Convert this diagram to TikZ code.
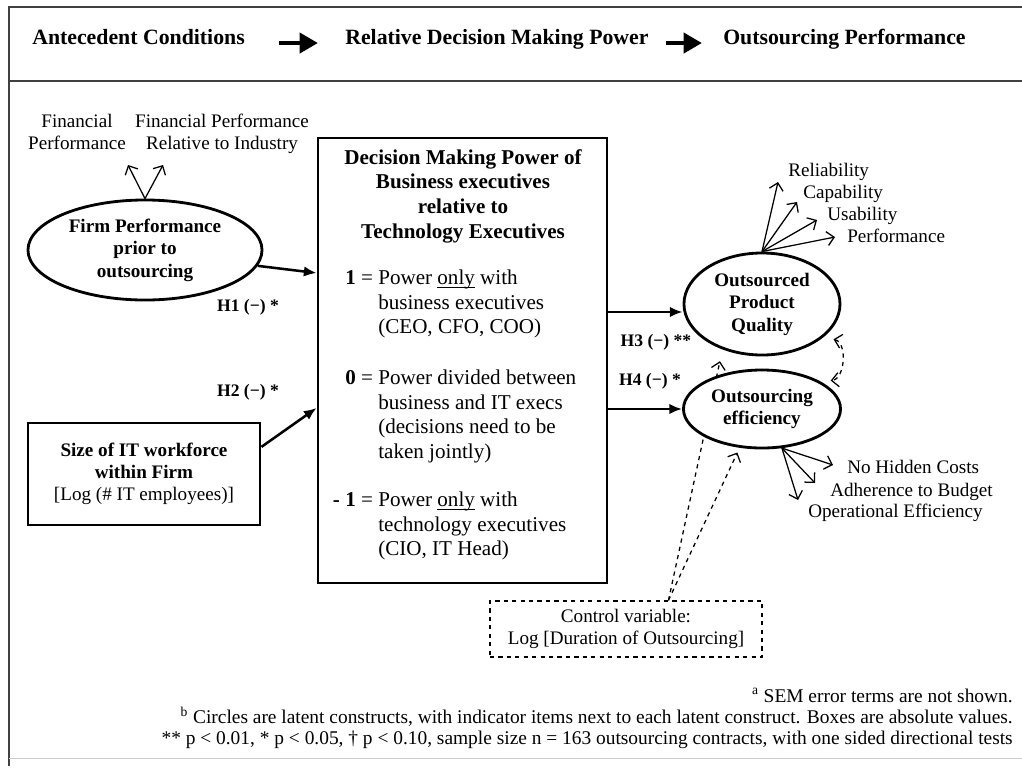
\documentclass[tikz,border=0pt]{standalone}
\usepackage{fontspec}
\setmainfont{Liberation Serif}
\usetikzlibrary{positioning}
\usetikzlibrary{shapes.geometric}
\usetikzlibrary{arrows.meta}
\usetikzlibrary{backgrounds}

\begin{document}
\begin{tikzpicture}[x=0.025cm, y=-0.025cm,
        latent/.style = {draw, ellipse, line width=2pt, inner sep=0pt, fill=white, align=center, font=\bfseries\fontsize{13.6}{16}\selectfont},
        obs/.style = {draw, rectangle, line width=2pt, inner sep=0pt, align=center, font=\fontsize{13.6}{15.8}\selectfont},
        hyp/.style = {-{Latex[length=9pt,width=7.5pt]}, line width=1.8pt},
        ind/.style = {-{Straight Barb[length=5pt,width=10pt]}, line width=0.9pt},
        ctl/.style = {dashed, line width=0.9pt},
        indtext/.style = {inner sep=0pt, font=\fontsize{13.6}{15.3}\selectfont},
        hlabel/.style = {inner sep=0pt, font=\bfseries\fontsize{12.5}{14}\selectfont},
        boxitem/.style = {anchor=north west, align=left, inner sep=0pt, font=\fontsize{15}{17.4}\selectfont},
        hdr/.style = {anchor=base west, inner sep=0pt, font=\bfseries\fontsize{15.5}{18}\selectfont},
        hdrarrow/.style = {-{Triangle[length=13pt,width=14pt]}, line width=3.5pt},
        frameline/.style = {draw=black!75, line width=1.3pt}]
        \useasboundingbox (0,0) rectangle (1022,771);

        %Rahmen
        \draw[frameline] (8,7) -- (1022,7);
        \draw[frameline] (8,81) -- (1022,81);
        \draw[frameline] (9,7) -- (9,766);
        \draw[black!20, line width=0.6pt] (9,758) -- (1022,758);

        %Kopfzeile
        \node[hdr] (hdrA) at (32,44) {Antecedent Conditions};
        \node[hdr] (hdrB) at (345,44) {Relative Decision Making Power};
        \node[hdr] (hdrC) at (723,44) {Outsourcing Performance};

        \draw[hdrarrow, shorten <=0.85cm, shorten >=0.675cm] ([yshift=0.7pt]hdrA.base east) -- ([yshift=0.7pt]hdrB.base west);
        \draw[hdrarrow, shorten <=0.425cm, shorten >=0.525cm] ([yshift=0.7pt]hdrB.base east) -- ([yshift=0.7pt]hdrC.base west);

        %Knoten
        \node[latent, minimum width=5.85cm, minimum height=2.5cm] (firm) at (145,250) {Firm Performance\\prior to\\outsourcing};
        \node[indtext, anchor=north, align=center] (finA) at (77,114) {Financial\\Performance};
        \node[indtext, anchor=north, align=center] (finB) at (222,114) {Financial Performance\\Relative to Industry};
        \coordinate (finAtip) at (128,165);
        \coordinate (finBtip) at (163,165);

        \node[obs, minimum width=5.8cm, minimum height=2.55cm] (itsize) at (144,474) {\textbf{Size of IT workforce}\\\textbf{within Firm}\\\mbox{[Log (\# IT employees)]}};

        \node[draw, line width=2pt, minimum width=7.225cm, minimum height=11.125cm] (dmpbox) at (462.5,360.5) {};
        \node[anchor=north, align=center, inner sep=0pt, font=\bfseries\fontsize{15}{17.6}\selectfont] (dmptitle) at (463,149) {Decision Making Power of\\Business executives\\relative to\\Technology Executives};
        \node[boxitem] (pow1) at (378,270) {\llap{\textbf{1} = }Power \underline{\smash{only}} with\\business executives\\(CEO, CFO, COO)};
        \node[boxitem] (pow0) at (378,370) {\llap{\textbf{0} = }Power divided between\\business and IT execs\\(decisions need to be\\taken jointly)};
        \node[boxitem] (powm) at (378,492) {\llap{\textbf{- 1} = }Power \underline{\smash{only}} with\\technology executives\\(CIO, IT Head)};

        \node[latent, minimum width=3.9cm, minimum height=2.55cm] (opq) at (762,304) {Outsourced\\Product\\Quality};
        \node[latent, minimum width=3.925cm, minimum height=1.95cm] (eff) at (762,409) {Outsourcing\\efficiency};

        \node[indtext, anchor=base west] (rel) at (788,176) {Reliability};
        \node[indtext, anchor=base west] (cap) at (803,198) {Capability};
        \node[indtext, anchor=base west] (use) at (827,220) {Usability};
        \node[indtext, anchor=base west] (perf) at (847,242) {Performance};
        \coordinate (reltip) at (778,182);
        \coordinate (captip) at (797,202);
        \coordinate (usetip) at (817,220);
        \coordinate (perftip) at (835,237);

        \node[indtext, anchor=base west] (hidden) at (847,473) {No Hidden Costs};
        \node[indtext, anchor=base west] (budget) at (830,496) {Adherence to Budget};
        \node[indtext, anchor=base west] (opeff) at (808,517) {Operational Efficiency};
        \coordinate (hiddentip) at (833,465);
        \coordinate (budgettip) at (815,483);
        \coordinate (opefftip) at (798,500);

        \node[draw, dashed, line width=0.9pt, minimum width=6.8cm, minimum height=1.4cm, align=center, font=\fontsize{13.6}{15.3}\selectfont] (ctrl) at (626,629) {Control variable:\\Log [Duration of Outsourcing]};

        \node[hlabel] (h1) at (248,307) {H1 (−) *};
        \node[hlabel] (h2) at (248,392) {H2 (−) *};
        \node[hlabel] (h3) at (656,342) {H3 (−) **};
        \node[hlabel] (h4) at (650,381) {H4 (−) *};

        \node[anchor=north east, align=right, inner sep=0pt, font=\fontsize{13.8}{15.2}\selectfont] (notes) at (1013,688) {\textsuperscript{a} SEM error terms are not shown.\\\textsuperscript{b} Circles are latent constructs, with indicator items next to each latent construct. Boxes are absolute values.\\** p < 0.01, * p < 0.05, † p < 0.10, sample size n = 163 outsourcing contracts, with one sided directional tests};

        %Kanten
        \draw[ind] (firm.north) -- (finAtip);
        \draw[ind] (firm.north) -- (finBtip);

        \draw[hyp] (firm.-8) -- (dmpbox.west |- 0,273);
        \draw[hyp] (itsize.13) -- (dmpbox.west |- 0,408);
        \draw[hyp] (dmpbox.east |- 0,312) -- (opq.west |- 0,312);
        \draw[hyp] (dmpbox.east |- eff.west) -- (eff.west);

        \draw[ind] (opq.north) -- (reltip);
        \draw[ind] (opq.north) -- (captip);
        \draw[ind] (opq.north) -- (usetip);
        \draw[ind] (opq.north) -- (perftip);

        \draw[ind] (eff.-63) -- (hiddentip);
        \draw[ind] (eff.-63) -- (budgettip);
        \draw[ind] (eff.-63) -- (opefftip);

        \begin{scope}[on background layer]
            \draw[ctl, ind, shorten >=0.3cm] (ctrl.34) -- (opq.-131);
        \end{scope}
        \draw[ctl, ind, shorten >=0.13cm] (ctrl.34) -- (eff.-120);
        \draw[ctl, {Straight Barb[length=5pt,width=10pt]}-{Straight Barb[length=5pt,width=10pt]}, shorten <=0.25cm, shorten >=0.25cm] (opq.-28) to[bend left=80, looseness=1.4] (eff.25);

    \end{tikzpicture}
\end{document}
